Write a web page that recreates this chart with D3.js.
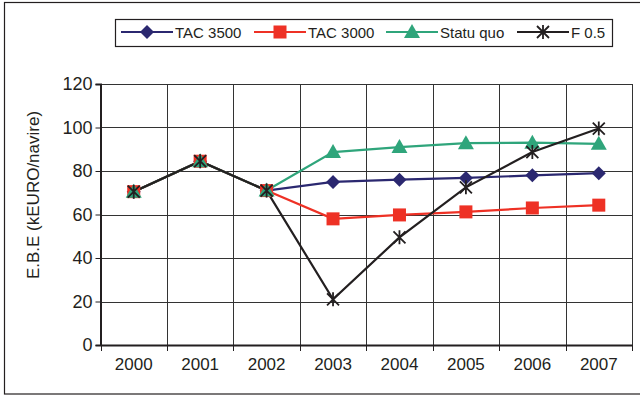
<!DOCTYPE html>
<html><head><meta charset="utf-8">
<script src="https://cdn.jsdelivr.net/npm/d3@7"></script>
<style>body{margin:0;background:#fff}svg{display:block}text{font-family:"Liberation Sans",Arial,sans-serif;fill:#231f20}</style>
</head><body><svg id="c" width="640" height="396"></svg>
<script>
const years = ["2000","2001","2002","2003","2004","2005","2006","2007"];
const tac3500 = [70.5, 84.5, 71, 75, 76, 76.8, 78, 79];
const tac3000 = [70.5, 84.5, 71, 58, 59.8, 61.2, 63, 64.3];
const statuQuo = [70.5, 84.5, 71, 88.7, 91, 92.8, 93, 92.5];
const f05 = [70.5, 84.5, 71, 21, 49.5, 72.5, 88.7, 99.5];
const yTicks = [0, 20, 40, 60, 80, 100, 120];
const seriesNames = ["TAC 3500", "TAC 3000", "Statu quo", "F 0.5"];
const seriesColors = ["#2b2870", "#ee3125", "#2fa57b", "#231f20"];
const seriesShapes = ["diamond", "square", "triangle", "star"];
const seriesValues = [tac3500, tac3000, statuQuo, f05];

const svg = d3.select("#c");
svg.append("rect").attr("x",4.5).attr("y",2.5).attr("width",640).attr("height",391.5)
  .attr("fill","none").attr("stroke","#231f20").attr("stroke-width",1.2);

const L = 100.5, R = 632, T = 84, B = 345;
const x = d3.scaleBand().domain(years).range([L, R]);
const y = d3.scaleLinear().domain([0, 120]).range([B, T]);

// grid
const g = svg.append("g");
g.selectAll("line.h").data(yTicks.slice(1)).join("line")
  .attr("x1", L).attr("x2", R).attr("y1", d=>Math.round(y(d))+0.5).attr("y2", d=>Math.round(y(d))+0.5)
  .attr("stroke","#333").attr("stroke-width",1);
g.selectAll("line.v").data(years.map((d,i)=>i+1)).join("line")
  .attr("x1", i=>Math.round(L + i*x.step())+0.5).attr("x2", i=>Math.round(L + i*x.step())+0.5)
  .attr("y1", T).attr("y2", B).attr("stroke","#333").attr("stroke-width",1);

// y axis
const ya = svg.append("g").attr("transform",`translate(${L},0)`)
  .call(d3.axisLeft(y).tickValues(yTicks).tickSize(5).tickPadding(3));
ya.select(".domain").attr("stroke","#231f20").attr("stroke-width",2);
ya.selectAll(".tick line").attr("stroke","#231f20");
ya.selectAll("text").attr("font-size",18).attr("font-family","Liberation Sans, Arial, sans-serif").attr("fill","#231f20");

// x axis
const xa = svg.append("g").attr("transform",`translate(0,${B})`)
  .call(d3.axisBottom(x).tickSize(0).tickPadding(13));
xa.select(".domain").attr("stroke","#231f20").attr("stroke-width",2);
xa.selectAll("text").attr("font-size",17).attr("font-family","Liberation Sans, Arial, sans-serif").attr("fill","#231f20");
svg.append("g").selectAll("line").data(d3.range(0, years.length+1)).join("line")
  .attr("x1", i=>Math.round(L + i*x.step())+0.5).attr("x2", i=>Math.round(L + i*x.step())+0.5)
  .attr("y1", B).attr("y2", B+6).attr("stroke","#231f20").attr("stroke-width",1);

svg.append("text").attr("transform","translate(39,195) rotate(-90)")
  .attr("text-anchor","middle").attr("font-size",17).text("E.B.E (kEURO/navire)");

function marker(sel, shape, color){
  if(shape==="diamond"){
    sel.append("path").attr("d","M0,-7L7,0L0,7L-7,0Z").attr("fill",color);
  } else if(shape==="square"){
    sel.append("rect").attr("x",-6.5).attr("y",-6.5).attr("width",13).attr("height",13).attr("fill",color);
  } else if(shape==="triangle"){
    sel.append("path").attr("d","M0,-8L8,6L-8,6Z").attr("fill",color);
  } else {
    sel.append("path").attr("d","M-6,-6L6,6M-6,6L6,-6M0,-7L0,7").attr("stroke",color).attr("stroke-width",1.8).attr("fill","none");
  }
}

const line = d3.line().x((d,i)=>x(years[i])+x.bandwidth()/2).y(d=>y(d));
seriesValues.forEach((vals, s)=>{
  svg.append("path").datum(vals).attr("d", line).attr("fill","none")
    .attr("stroke", seriesColors[s]).attr("stroke-width",2.2);
});
seriesValues.forEach((vals, s)=>{
  vals.forEach((v,i)=>{
    const m = svg.append("g").attr("transform",`translate(${x(years[i])+x.bandwidth()/2},${y(v)})`);
    marker(m, seriesShapes[s], seriesColors[s]);
  });
});

// legend
svg.append("rect").attr("x",115.5).attr("y",19.5).attr("width",497).attr("height",27)
  .attr("fill","#fff").attr("stroke","#231f20").attr("stroke-width",1.2);
const legX = [121, 254, 386, 517];
seriesNames.forEach((n, s)=>{
  const lg = svg.append("g").attr("transform",`translate(${legX[s]},32)`);
  lg.append("line").attr("x1",0).attr("x2",52).attr("stroke",seriesColors[s]).attr("stroke-width",2.2);
  marker(lg.append("g").attr("transform","translate(26,0)"), seriesShapes[s], seriesColors[s]);
  lg.append("text").attr("x",54).attr("y",6).attr("font-size",15).text(n);
});
</script></body></html>
